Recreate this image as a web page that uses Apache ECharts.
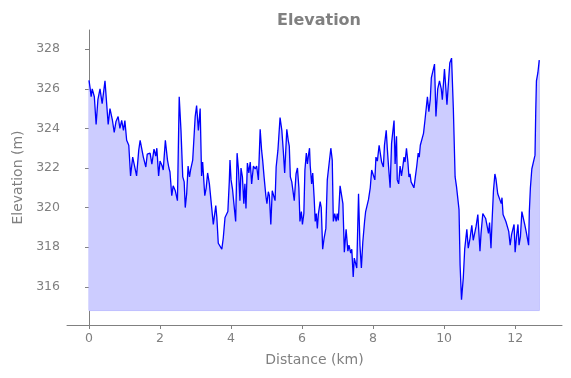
<!DOCTYPE html>
<html>
<head>
<meta charset="utf-8">
<script src="https://cdn.jsdelivr.net/npm/echarts@6/dist/echarts.min.js"></script>
<style>
  html, body { margin: 0; padding: 0; background: #fff; }
  #chart { width: 571px; height: 378px; }
</style>
</head>
<body>
<div id="chart"></div>
<script>
const distance = [
  0.00, 0.03, 0.06, 0.09, 0.15, 0.20, 0.25, 0.31, 0.37, 0.45, 0.54, 0.59, 0.66, 0.71, 0.76, 0.82,
  0.87, 0.92, 0.97, 1.01, 1.06, 1.12, 1.17, 1.23, 1.27, 1.34, 1.40, 1.44, 1.49, 1.53, 1.60, 1.64,
  1.72, 1.77, 1.83, 1.88, 1.91, 1.96, 2.00, 2.06, 2.09, 2.15, 2.21, 2.25, 2.28, 2.33, 2.37, 2.43,
  2.49, 2.54, 2.59, 2.64, 2.68, 2.71, 2.75, 2.79, 2.83, 2.86, 2.92, 2.99, 3.03, 3.08, 3.13, 3.17,
  3.20, 3.26, 3.30, 3.34, 3.39, 3.44, 3.50, 3.57, 3.60, 3.64, 3.69, 3.74, 3.78, 3.83, 3.88, 3.91,
  3.95, 3.97, 4.00, 4.04, 4.08, 4.13, 4.17, 4.21, 4.25, 4.28, 4.32, 4.36, 4.39, 4.42, 4.46, 4.50,
  4.54, 4.58, 4.63, 4.68, 4.72, 4.77, 4.82, 4.86, 4.89, 4.93, 4.98, 5.01, 5.05, 5.08, 5.12, 5.16,
  5.20, 5.24, 5.27, 5.32, 5.38, 5.43, 5.47, 5.51, 5.57, 5.61, 5.64, 5.67, 5.71, 5.75, 5.78, 5.83,
  5.87, 5.91, 5.94, 5.98, 6.01, 6.05, 6.08, 6.12, 6.15, 6.18, 6.21, 6.23, 6.27, 6.30, 6.34, 6.37,
  6.40, 6.43, 6.46, 6.51, 6.54, 6.58, 6.62, 6.67, 6.71, 6.76, 6.81, 6.85, 6.88, 6.92, 6.96, 6.99,
  7.02, 7.07, 7.11, 7.15, 7.19, 7.24, 7.29, 7.32, 7.37, 7.40, 7.44, 7.47, 7.51, 7.54, 7.59, 7.63,
  7.67, 7.71, 7.76, 7.79, 7.83, 7.87, 7.92, 7.96, 8.01, 8.05, 8.08, 8.12, 8.17, 8.21, 8.24, 8.29,
  8.32, 8.37, 8.40, 8.43, 8.48, 8.52, 8.55, 8.59, 8.62, 8.66, 8.68, 8.72, 8.76, 8.80, 8.84, 8.87,
  8.90, 8.94, 8.98, 9.01, 9.04, 9.07, 9.12, 9.15, 9.19, 9.23, 9.27, 9.30, 9.33, 9.37, 9.42, 9.46,
  9.49, 9.53, 9.57, 9.61, 9.64, 9.68, 9.73, 9.77, 9.82, 9.87, 9.92, 9.95, 10.01, 10.05, 10.08, 10.12,
  10.16, 10.21, 10.26, 10.31, 10.35, 10.38, 10.42, 10.45, 10.49, 10.54, 10.58, 10.64, 10.68, 10.73, 10.78, 10.82,
  10.85, 10.90, 10.95, 11.01, 11.04, 11.09, 11.14, 11.17, 11.21, 11.25, 11.28, 11.32, 11.35, 11.39, 11.43, 11.46,
  11.51, 11.56, 11.61, 11.63, 11.66, 11.70, 11.74, 11.78, 11.82, 11.86, 11.90, 11.94, 11.97, 12.00, 12.04, 12.08,
  12.11, 12.15, 12.19, 12.23, 12.27, 12.31, 12.35, 12.38, 12.40, 12.43, 12.47, 12.52, 12.56, 12.58, 12.60, 12.64,
  12.68
]

const elevation = [
  326.43, 326.05, 325.6, 326.0, 325.6, 324.2, 325.45, 326.0, 325.25, 326.4, 324.2, 325.0, 324.4, 323.8, 324.35, 324.6,
  324.0, 324.4, 323.9, 324.4, 323.4, 323.15, 321.6, 322.55, 322.55, 321.6, 322.9, 323.4, 323.4, 322.55, 322.05, 322.7,
  322.75, 322.2, 322.95, 322.6, 323.0, 321.6, 322.35, 322.1, 321.9, 323.4, 322.4, 322.0, 321.8, 320.6, 321.1, 320.85,
  320.35, 325.6, 323.9, 321.55, 321.3, 320.0, 320.7, 322.1, 321.55, 321.9, 322.4, 324.6, 325.15, 323.9, 325.0, 321.6,
  322.3, 320.6, 321.0, 321.75, 321.2, 321.3, 319.15, 320.1, 319.5, 318.2, 318.1, 317.9, 318.45, 319.5, 319.55, 319.8,
  321.3, 322.4, 321.4, 320.95, 320.2, 319.3, 322.75, 321.9, 320.35, 322.0, 321.55, 320.2, 321.2, 319.95, 322.25, 321.75,
  322.3, 321.2, 322.1, 321.95, 322.1, 321.4, 323.95, 322.9, 322.4, 321.55, 320.6, 320.2, 320.8, 320.6, 319.15, 320.85,
  320.95, 320.35, 322.05, 322.9, 324.55, 323.9, 322.9, 321.75, 323.95, 323.4, 323.1, 321.55, 321.3, 321.2, 320.35, 321.7,
  322.0, 321.0, 319.3, 319.8, 319.15, 319.7, 321.9, 322.75, 322.2, 322.65, 323.0, 322.1, 321.2, 321.75, 320.5, 319.3,
  319.7, 318.95, 319.7, 320.3, 320.0, 317.9, 318.45, 318.95, 321.4, 322.2, 323.0, 322.4, 319.3, 319.7, 319.3, 319.7,
  319.35, 321.1, 321.0, 320.2, 317.75, 318.9, 317.8, 318.1, 317.7, 317.9, 316.5, 317.45, 317.45, 316.95, 320.7, 318.1,
  316.95, 318.25, 319.3, 319.8, 319.7, 320.4, 321.0, 321.9, 322.0, 321.4, 322.55, 322.35, 323.15, 323.1, 322.3, 322.05,
  323.15, 323.9, 323.0, 322.2, 321.0, 323.25, 323.3, 324.4, 322.2, 323.6, 321.4, 321.2, 322.1, 321.6, 322.1, 322.55,
  322.3, 323.0, 322.3, 321.55, 321.7, 321.3, 321.2, 321.0, 321.55, 322.1, 322.75, 322.55, 323.15, 323.15, 323.75, 324.4,
  324.3, 325.6, 324.85, 325.45, 326.55, 326.5, 327.25, 324.6, 326.0, 326.4, 326.0, 325.45, 327.0, 326.0, 325.2, 325.2,
  327.3, 327.55, 325.0, 321.55, 321.05, 321.1, 319.9, 317.1, 315.35, 316.45, 317.9, 318.9, 317.95, 318.45, 319.1, 318.35,
  318.45, 319.05, 319.65, 317.8, 318.7, 319.7, 319.65, 319.45, 319.45, 318.7, 319.25, 317.95, 319.3, 320.85, 321.7, 321.45,
  320.7, 320.7, 320.2, 320.5, 319.65, 319.7, 319.3, 319.3, 318.8, 318.1, 318.65, 318.65, 319.15, 317.75, 318.55, 319.15,
  318.1, 318.55, 319.8, 319.9, 319.15, 318.8, 318.7, 318.1, 319.8, 321.0, 321.95, 322.0, 322.65, 324.8, 326.4, 326.8,
  327.45
]

const fillBase = 314.8
const xTicks = [0, 2, 4, 6, 8, 10, 12]
const yTicks = [316, 318, 320, 322, 324, 326, 328]

const lineData = distance.map((d, i) => [d, elevation[i]])
const last = distance.length - 1
// outline of the filled polygon (left, bottom, right edges)
const edgeData = [
  [distance[0], elevation[0]],
  [distance[0], fillBase],
  [distance[last], fillBase],
  [distance[last], elevation[last]],
]

const gray = '#808080'
const axisCommon = {
  axisLine: { show: true, lineStyle: { color: gray, width: 1 } },
  axisTick: { show: true, length: 4, inside: false, lineStyle: { color: gray } },
  axisLabel: { color: gray, fontSize: 12.5, fontFamily: 'DejaVu Sans' },
  splitLine: { show: false },
  nameLocation: 'middle',
  nameTextStyle: { color: gray, fontSize: 14, fontFamily: 'DejaVu Sans' },
}

const chart = echarts.init(document.getElementById('chart'), null, { renderer: 'canvas' })
chart.setOption({
  backgroundColor: '#fff',
  animation: false,
  title: {
    text: 'Elevation',
    left: 314, top: 8, textAlign: 'center',
    textStyle: { color: gray, fontSize: 16, fontWeight: 'bold', fontFamily: 'DejaVu Sans' },
  },
  grid: { left: 67, right: 9, top: 30, bottom: 53 },
  xAxis: {
    ...axisCommon,
    type: 'value',
    name: 'Distance (km)',
    nameGap: 28,
    min: -0.62, max: 13.32,
    axisTick: { ...axisCommon.axisTick, customValues: xTicks },
    axisLabel: { ...axisCommon.axisLabel, customValues: xTicks, margin: 7 },
  },
  yAxis: {
    ...axisCommon,
    type: 'value',
    name: 'Elevation (m)',
    nameGap: 42,
    min: 314.07, max: 328.97,
    axisTick: { ...axisCommon.axisTick, customValues: yTicks },
    axisLabel: { ...axisCommon.axisLabel, customValues: yTicks, margin: 7 },
  },
  series: [
    {
      type: 'line',
      data: lineData,
      showSymbol: false,
      lineStyle: { color: '#0000ff', width: 1.3 },
      areaStyle: { color: '#ccccff', opacity: 1, origin: fillBase },
      z: 3,
    },
    {
      type: 'line',
      data: edgeData,
      showSymbol: false,
      lineStyle: { color: '#b3b3ff', width: 1 },
      z: 2,
    },
  ],
})
</script>
</body>
</html>
